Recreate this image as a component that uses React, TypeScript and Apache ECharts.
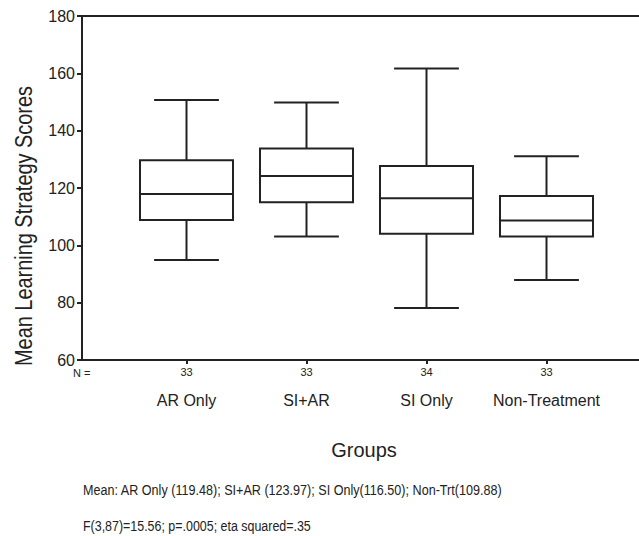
import React, { useEffect, useRef } from "react";
import * as echarts from "echarts";

const categories = ["AR Only", "SI+AR", "SI Only", "Non-Treatment"];
const nCounts = [33, 33, 34, 33];
const lowWhisker = [94.9, 103.1, 78.1, 87.9];
const q1 = [108.8, 115.0, 104.0, 103.1];
const median = [117.9, 124.2, 116.4, 108.7];
const q3 = [129.7, 133.8, 127.7, 117.2];
const highWhisker = [150.7, 149.8, 161.7, 131.1];
const yMin = 60;
const yMax = 180;
const yInterval = 20;
const meanLine =
  "Mean: AR Only (119.48); SI+AR (123.97); SI Only(116.50); Non-Trt(109.88)";
const statLine = "F(3,87)=15.56; p=.0005; eta squared=.35";

const FONT = "'Liberation Sans', Arial, sans-serif";
const INK = "#222";

export default function App() {
  const ref = useRef<HTMLDivElement>(null);
  useEffect(() => {
    if (!ref.current) return;
    const chart = echarts.init(ref.current, null, { renderer: "svg" });
    const data = categories.map((_, i) => [
      i,
      lowWhisker[i],
      q1[i],
      median[i],
      q3[i],
      highWhisker[i],
    ]);
    chart.setOption({
      animation: false,
      backgroundColor: "#fff",
      textStyle: { fontFamily: FONT },
      grid: [
        { left: 82, right: 0, top: 16, bottom: 176 },
        { left: 126.5, right: 32.5, top: 16, bottom: 176 },
      ],
      xAxis: [
        {
          gridIndex: 0,
          type: "value",
          min: 0,
          max: 1,
          position: "bottom",
          axisLine: { show: true, lineStyle: { color: INK, width: 2 } },
          axisTick: { show: false },
          axisLabel: { show: false },
          splitLine: { show: false },
        },
        {
          gridIndex: 0,
          type: "value",
          min: 0,
          max: 1,
          position: "top",
          axisLine: { show: true, lineStyle: { color: INK, width: 2 } },
          axisTick: { show: false },
          axisLabel: { show: false },
          splitLine: { show: false },
        },
        {
          gridIndex: 1,
          type: "category",
          data: categories,
          position: "bottom",
          boundaryGap: true,
          axisLine: { show: false },
          axisTick: {
            show: true,
            alignWithLabel: true,
            interval: 0,
            length: 4,
            lineStyle: { color: INK, width: 2 },
          },
          axisLabel: {
            show: true,
            interval: 0,
            margin: 6,
            fontSize: 11,
            color: INK,
            fontFamily: FONT,
            formatter: (_v: string, idx: number) => String(nCounts[idx]),
          },
        },
        {
          gridIndex: 1,
          type: "category",
          data: categories,
          position: "bottom",
          boundaryGap: true,
          axisLine: { show: false },
          axisTick: { show: false },
          axisLabel: {
            show: true,
            interval: 0,
            margin: 32,
            fontSize: 16,
            color: INK,
            fontFamily: FONT,
          },
        },
      ],
      yAxis: [
        {
          gridIndex: 0,
          type: "value",
          min: yMin,
          max: yMax,
          interval: yInterval,
          axisLine: { show: true, lineStyle: { color: INK, width: 2 } },
          axisTick: {
            show: true,
            inside: false,
            length: 5,
            lineStyle: { color: INK, width: 2 },
          },
          axisLabel: {
            show: true,
            margin: 7,
            fontSize: 16,
            color: INK,
            fontFamily: FONT,
          },
          splitLine: { show: false },
        },
        {
          gridIndex: 1,
          type: "value",
          min: yMin,
          max: yMax,
          show: false,
          splitLine: { show: false },
        },
      ],
      series: [
        {
          type: "custom",
          xAxisIndex: 2,
          yAxisIndex: 1,
          data,
          encode: { x: 0, y: [1, 2, 3, 4, 5] },
          renderItem: (params: any, api: any) => {
            const i = api.value(0);
            const pLo = api.coord([i, api.value(1)]);
            const pQ1 = api.coord([i, api.value(2)]);
            const pMed = api.coord([i, api.value(3)]);
            const pQ3 = api.coord([i, api.value(4)]);
            const pHi = api.coord([i, api.value(5)]);
            const band =
              api.coord([1, api.value(3)])[0] - api.coord([0, api.value(3)])[0];
            const cx = pMed[0];
            const bw = band * 0.775;
            const cw = band * 0.54;
            const ls = { stroke: INK, lineWidth: 2, fill: null };
            return {
              type: "group",
              children: [
                {
                  type: "line",
                  shape: { x1: cx, y1: pQ3[1], x2: cx, y2: pHi[1] },
                  style: ls,
                },
                {
                  type: "line",
                  shape: { x1: cx - cw / 2, y1: pHi[1], x2: cx + cw / 2, y2: pHi[1] },
                  style: ls,
                },
                {
                  type: "line",
                  shape: { x1: cx, y1: pQ1[1], x2: cx, y2: pLo[1] },
                  style: ls,
                },
                {
                  type: "line",
                  shape: { x1: cx - cw / 2, y1: pLo[1], x2: cx + cw / 2, y2: pLo[1] },
                  style: ls,
                },
                {
                  type: "rect",
                  shape: {
                    x: cx - bw / 2,
                    y: pQ3[1],
                    width: bw,
                    height: pQ1[1] - pQ3[1],
                  },
                  style: { stroke: INK, lineWidth: 2, fill: "#fff" },
                },
                {
                  type: "line",
                  shape: { x1: cx - bw / 2, y1: pMed[1], x2: cx + bw / 2, y2: pMed[1] },
                  style: ls,
                },
              ],
            };
          },
        },
      ],
      graphic: [
        {
          type: "text",
          x: 23.5,
          y: 226,
          rotation: Math.PI / 2,
          scaleX: 0.83,
          style: {
            text: "Mean Learning Strategy Scores",
            fontSize: 24,
            fontFamily: FONT,
            fill: INK,
            align: "center",
            verticalAlign: "middle",
          },
        },
        {
          type: "text",
          x: 73,
          y: 373,
          style: {
            text: "N =",
            fontSize: 11,
            fontFamily: FONT,
            fill: INK,
            align: "left",
            verticalAlign: "middle",
          },
        },
        {
          type: "text",
          x: 364,
          y: 450,
          style: {
            text: "Groups",
            fontSize: 20,
            fontFamily: FONT,
            fill: INK,
            align: "center",
            verticalAlign: "middle",
          },
        },
        {
          type: "text",
          x: 83,
          y: 490,
          scaleX: 0.84,
          style: {
            text: meanLine,
            fontSize: 15,
            fontFamily: FONT,
            fill: INK,
            align: "left",
            verticalAlign: "middle",
          },
        },
        {
          type: "text",
          x: 83,
          y: 526.5,
          scaleX: 0.83,
          style: {
            text: statLine,
            fontSize: 15,
            fontFamily: FONT,
            fill: INK,
            align: "left",
            verticalAlign: "middle",
          },
        },
      ],
    });
    return () => chart.dispose();
  }, []);
  return (
    <div
      ref={ref}
      style={{ position: "fixed", left: 0, top: 0, width: 639, height: 536 }}
    />
  );
}
